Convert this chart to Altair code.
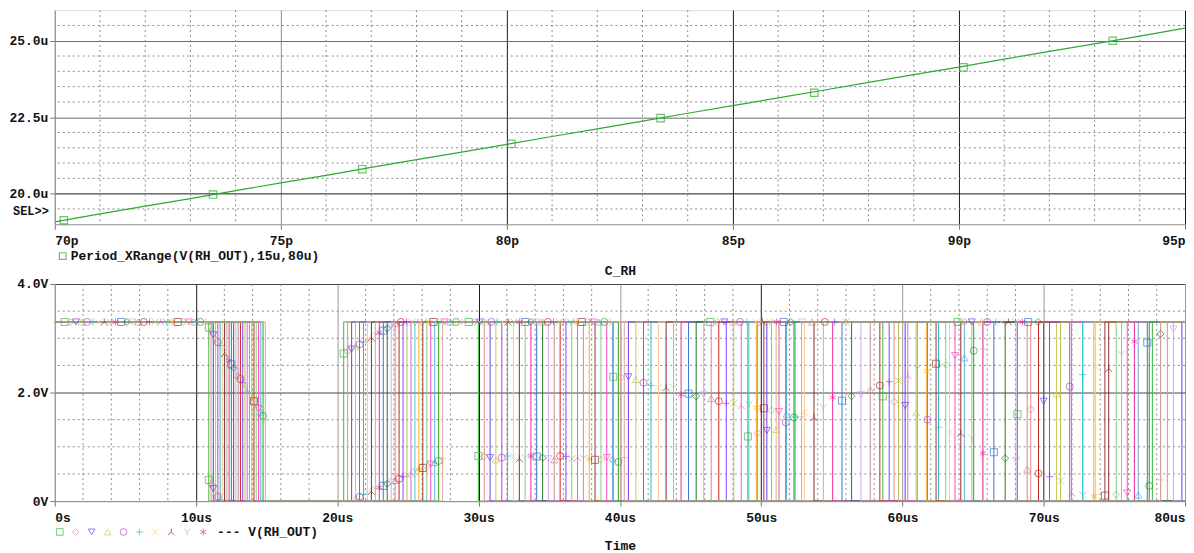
import altair as alt
import pandas as pd

FONT = "Liberation Mono"

# ---------------- top panel: Period_XRange(V(RH_OUT)) versus C_RH ----------------
c_rh_p = [70, 71, 72, 73, 74, 75, 76, 77, 78, 79, 80, 81, 82, 83, 84, 85, 86, 87, 88, 89, 90, 91, 92, 93, 94, 95]
period_us = [19.08, 19.34, 19.59, 19.84, 20.10, 20.35, 20.60, 20.86, 21.11, 21.36, 21.61, 21.87, 22.12,
             22.37, 22.63, 22.88, 23.13, 23.38, 23.64, 23.89, 24.14, 24.40, 24.65, 24.90, 25.15, 25.41]
mk_c_p = [70.2, 73.5, 76.8, 80.1, 83.4, 86.8, 90.1, 93.4]
mk_period_us = [19.13, 19.97, 20.80, 21.63, 22.47, 23.30, 24.13, 25.00]
top_x_ticks = [70, 75, 80, 85, 90, 95]
top_y_ticks = [20.0, 22.5, 25.0]
top_x_minor = [71, 72, 73, 74, 76, 77, 78, 79, 81, 82, 83, 84, 86, 87, 88, 89, 91, 92, 93, 94]
top_y_minor = [19.5, 20.5, 21.0, 21.5, 22.0, 23.0, 23.5, 24.0, 24.5, 25.5]

# ---------------- bottom panel: V(RH_OUT) for each C_RH step ----------------
v_high = 3.3
fall1_us = [10.90, 11.06, 11.22, 11.38, 11.54, 11.70, 11.86, 12.02, 12.18, 12.34, 12.50, 12.66, 12.82,
            12.98, 13.14, 13.30, 13.46, 13.62, 13.78, 13.94, 14.10, 14.26, 14.42, 14.58, 14.74, 14.90]
rise1_us = [20.45, 20.73, 21.01, 21.29, 21.57, 21.85, 22.13, 22.41, 22.69, 22.97, 23.25, 23.53, 23.81,
            24.09, 24.37, 24.65, 24.93, 25.21, 25.49, 25.77, 26.05, 26.33, 26.61, 26.89, 27.17, 27.45]
bot_x_ticks = [0, 10, 20, 30, 40, 50, 60, 70, 80]
bot_y_ticks = [0, 2, 4]
bot_x_minor = [2, 4, 6, 8, 12, 14, 16, 18, 22, 24, 26, 28, 32, 34, 36, 38, 42, 44, 46, 48,
               52, 54, 56, 58, 62, 64, 66, 68, 72, 74, 76, 78]
bot_y_minor = [0.5, 1.0, 1.5, 2.5, 3.0, 3.5]

# markers lying on the 3.3 V level: (first trace, times in us)
mk_level_groups = [
    (0, [0.7, 1.1, 1.5, 1.9, 2.3, 2.7, 3.1, 3.5, 3.9, 4.3, 4.7, 5.1, 5.5, 5.9, 6.3, 6.7, 7.1, 7.5,
         7.9, 8.3, 8.7, 9.1, 9.5, 9.9, 10.3, 10.7]),
    (14, [24.5, 24.9, 25.3, 25.7, 26.1, 26.5, 26.8, 27.2, 27.6, 28.0, 28.4, 28.8]),
    (0, [29.3, 29.7, 30.1, 30.5, 30.9, 31.3, 31.7, 32.1, 32.5, 32.9, 33.3, 33.7, 34.1, 34.5, 34.9,
         35.3, 35.7, 36.1, 36.5, 36.9, 37.3, 37.7, 38.1, 38.5, 38.9, 39.3]),
    (0, [46.4, 46.9, 47.4, 48.0, 48.5, 49.0, 49.6, 50.1, 50.6, 51.1, 51.6, 52.1, 52.9, 53.6, 54.5, 55.2, 56.0]),
    (0, [63.9, 64.4, 64.9, 65.6, 66.0, 66.6, 67.0, 67.5, 68.0, 68.5, 68.9, 69.6]),
]
# markers lying on switching edges: (edge, cycle, first trace, volts)
mk_edge_groups = [
    ("fall", 0, 0, [3.20, 3.13, 3.06, 3.00, 2.93, 2.86, 2.79, 2.72, 2.66, 2.59, 2.52, 2.45, 2.38,
                    2.32, 2.25, 2.18, 2.11, 2.04, 1.98, 1.91, 1.84, 1.77, 1.70, 1.64, 1.57, 1.50]),
    ("fall", 0, 0, [0.39, 0.31, 0.23, 0.15, 0.08, 0.02]),
    ("rise", 0, 0, [2.72, 2.76, 2.80, 2.85, 2.89, 2.93, 2.97, 3.01, 3.06, 3.10, 3.14, 3.18, 3.23, 3.27]),
    ("rise", 0, 3, [0.05, 0.08, 0.12, 0.15, 0.18, 0.22, 0.25, 0.28, 0.32, 0.35, 0.38, 0.41, 0.45,
                    0.48, 0.51, 0.55, 0.58, 0.61, 0.65, 0.68, 0.71, 0.74, 0.78]),
    ("fall", 1, 0, [0.83, 0.82, 0.80, 0.76, 0.80, 0.83, 0.82, 0.78, 0.80, 0.83, 0.82, 0.80, 0.78,
                    0.76, 0.83, 0.82, 0.78, 0.80, 0.79, 0.77, 0.76, 0.76, 0.80, 0.78, 0.72, 0.80]),
    ("rise", 1, 0, [2.29, 2.28, 2.29, 2.24, 2.18, 2.13, 2.09, 2.09, 2.09, 1.96, 1.98, 1.93, 1.96,
                    1.89, 1.84, 1.80, 1.80, 1.76, 1.78, 1.72, 1.71, 1.67, 1.65, 1.60, 1.54, 1.55]),
    ("fall", 2, 0, [1.19, 1.25, 1.30, 1.32, 1.45, 1.55, 1.63, 1.54, 1.72, 1.91, 1.85, 1.93, 1.96,
                    2.05, 2.13, 2.20, 2.22, 2.31, 2.44, 2.39, 2.53, 2.51, 2.68, 2.64, 2.77, 2.80]),
    ("rise", 2, 0, [1.93, 1.83, 1.76, 1.63, 1.50, 1.36, 1.27, 1.25, 1.16, 0.88, 0.90, 0.79, 0.75,
                    0.59, 0.51, 0.45, 0.37, 0.15, 0.11, 0.09, 0.10, 0.12, 0.15, 0.11, 0.28, 0.39]),
    ("fall", 3, 0, [1.60, 1.69, 1.84, 1.98, 2.11, 2.33, 2.48, 2.44, 2.70, 2.94, 2.92, 3.08, 3.17]),
]

trace_colors = ["#3cb83c", "#e38a8a", "#6a3cf0", "#c8c85a", "#b844c8", "#22bccc", "#ffc890", "#8a2a2a",
                "#9cc09c", "#f0289c", "#3a74cc", "#237a23", "#cdaaec", "#c98a8a", "#cc2424", "#8a44ff",
                "#bcbc55", "#dc66dc", "#48cccc", "#ffaa22", "#9a3535", "#88cc88", "#ff48bc", "#6aa8dc",
                "#1ea81e", "#e2a2a2"]
shape_paths = ["square", "diamond", "triangle-down", "triangle-up", "circle",
               "M-1,0L1,0M0,-1L0,1",
               "M-1,-1L1,1M-1,1L1,-1",
               "M0,-1L0,0M0,0L-1,1M0,0L1,1",
               "M-1,-1L0,0L1,-1M0,0L0,1",
               "M0,-1L0,1M-0.87,-0.5L0.87,0.5M-0.87,0.5L0.87,-0.5"]

# ---------------- build tables ----------------
top_line = pd.DataFrame({"x": c_rh_p, "y": period_us})
top_marks = pd.DataFrame({"x": mk_c_p, "y": mk_period_us})

rows = []
for k in range(len(c_rh_p)):
    T = period_us[k]
    pts = [(0.0, v_high)]
    n = 0
    while True:
        fn = fall1_us[k] + n * T
        if fn >= 80:
            pts.append((80.0, v_high))
            break
        pts += [(fn, v_high), (fn, 0.0)]
        rn = rise1_us[k] + n * T
        if rn >= 80:
            pts.append((80.0, 0.0))
            break
        pts += [(rn, 0.0), (rn, v_high)]
        n += 1
    for i, (t, v) in enumerate(pts):
        rows.append({"tr": k, "o": i, "x": t, "y": v})
traces = pd.DataFrame(rows)

mrows = []
for k0, times in mk_level_groups:
    for j, t in enumerate(times):
        k = (k0 + j) % 26
        mrows.append({"tr": k, "sh": k % 10, "x": t, "y": v_high})
for edge, cyc, k0, volts in mk_edge_groups:
    for j, v in enumerate(volts):
        k = k0 + j
        base = fall1_us[k] if edge == "fall" else rise1_us[k]
        t = base + cyc * period_us[k]
        if t <= 80:
            mrows.append({"tr": k, "sh": k % 10, "x": t, "y": v})
markers = pd.DataFrame(mrows)

# ---------------- encodings ----------------
axis_common = dict(grid=True, gridWidth=1, tickSize=5, tickColor="#777",
                   domainColor="#999", labelFont=FONT, labelFontSize=13, labelFontWeight="bold",
                   labelColor="#111", titleFont=FONT, titleFontSize=13, titleFontWeight="bold",
                   titleColor="#111")


def grid_col(test, dark="#1a1a1a", light="#8c8c8c"):
    return {"condition": {"test": test, "value": dark}, "value": light}


top_x = alt.X("x:Q", scale=alt.Scale(domain=[70, 95], nice=False, zero=False),
              axis=alt.Axis(values=top_x_ticks, labelExpr="datum.value + 'p'", title="C_RH",
                            titlePadding=17, labelPadding=5, labelFlush=True,
                            gridColor=grid_col("datum.value >= 80"), **axis_common))
top_y = alt.Y("y:Q", scale=alt.Scale(domain=[19, 26], nice=False, zero=False),
              axis=alt.Axis(values=top_y_ticks, labelExpr="format(datum.value, '.1f') + 'u'",
                            title=None, labelPadding=2,
                            gridColor=grid_col("datum.value == 20", light="#6a6a6a"), **axis_common))
bot_x = alt.X("x:Q", scale=alt.Scale(domain=[0, 80], nice=False, zero=False),
              axis=alt.Axis(values=bot_x_ticks,
                            labelExpr="datum.value == 0 ? '0s' : datum.value + 'us'",
                            title="Time", titlePadding=15, labelPadding=6, labelFlush=True,
                            gridColor=grid_col("datum.value == 10 || datum.value == 30 || datum.value == 50",
                                               light="#9a9a9a"), **axis_common))
bot_y = alt.Y("y:Q", scale=alt.Scale(domain=[0, 4], nice=False, zero=False),
              axis=alt.Axis(values=bot_y_ticks,
                            labelExpr="datum.value == 0 ? '0V' : format(datum.value, '.1f') + 'V'",
                            title=None, labelPadding=2, gridColor="#444", **axis_common))

minor_style = dict(strokeDash=[2, 3], color="#8a8a8a", strokeWidth=1)

# ---------------- top panel ----------------
TOP_W, TOP_H = 1135, 215
t_gx = alt.Chart(pd.DataFrame({"x": top_x_minor})).mark_rule(**minor_style).encode(x=top_x)
t_gy = alt.Chart(pd.DataFrame({"y": top_y_minor})).mark_rule(**minor_style).encode(y=top_y)
t_line = alt.Chart(top_line).mark_line(color="#2faa2f", strokeWidth=1.2, clip=True).encode(x=top_x, y=top_y)
t_pts = alt.Chart(top_marks).mark_point(shape="square", filled=False, color="#2faa2f",
                                        size=55, strokeWidth=1.2).encode(x=top_x, y=top_y)
t_sel = alt.Chart(pd.DataFrame({"t": ["SEL>>"]})).mark_text(
    font=FONT, fontSize=12, fontWeight="bold", align="right", baseline="middle", color="#111"
).encode(text="t:N", x=alt.value(-6), y=alt.value(202))
t_leg_sym = alt.Chart(pd.DataFrame({"t": ["s"]})).mark_point(
    shape="square", filled=False, color="#2faa2f", size=45, strokeWidth=1.2
).encode(x=alt.value(8), y=alt.value(247))
t_leg_txt = alt.Chart(pd.DataFrame({"t": ["Period_XRange(V(RH_OUT),15u,80u)"]})).mark_text(
    font=FONT, fontSize=13, fontWeight="bold", align="left", baseline="middle", color="#111"
).encode(text="t:N", x=alt.value(16), y=alt.value(247))

top = alt.layer(t_gx, t_gy, t_line, t_pts, t_sel, t_leg_sym, t_leg_txt).properties(width=TOP_W, height=TOP_H)

# ---------------- bottom panel ----------------
BOT_W, BOT_H = 1135, 218
color_enc = alt.Color("tr:N", scale=alt.Scale(domain=list(range(26)), range=trace_colors), legend=None)
b_gx = alt.Chart(pd.DataFrame({"x": bot_x_minor})).mark_rule(**minor_style).encode(x=bot_x)
b_gy = alt.Chart(pd.DataFrame({"y": bot_y_minor})).mark_rule(**minor_style).encode(y=bot_y)
b_lines = alt.Chart(traces).mark_line(strokeWidth=1, clip=True).encode(
    x=bot_x, y=bot_y, color=color_enc, detail="tr:N", order="o:Q")
b_pts = alt.Chart(markers).mark_point(filled=False, size=50, strokeWidth=1, clip=True).encode(
    x=bot_x, y=bot_y, color=color_enc,
    shape=alt.Shape("sh:N", scale=alt.Scale(domain=list(range(10)), range=shape_paths), legend=None))

legend_layers = []
for i in range(10):
    legend_layers.append(
        alt.Chart(pd.DataFrame({"t": [i]})).mark_point(
            shape=shape_paths[i], filled=False, color=trace_colors[i], size=45, strokeWidth=1
        ).encode(x=alt.value(5 + 16 * i), y=alt.value(BOT_H + 31))
    )
b_leg_txt = alt.Chart(pd.DataFrame({"t": ["--- V(RH_OUT)"]})).mark_text(
    font=FONT, fontSize=13, fontWeight="bold", align="left", baseline="middle", color="#111"
).encode(text="t:N", x=alt.value(163), y=alt.value(BOT_H + 31))

bottom = alt.layer(b_gx, b_gy, b_lines, b_pts, *legend_layers, b_leg_txt).properties(width=BOT_W, height=BOT_H)

chart = alt.vconcat(top, bottom, spacing=60, bounds="flush").properties(
    padding={"left": 0, "top": 0, "right": 0, "bottom": 0}
).configure_view(stroke="#8a8a8a", strokeWidth=1).configure(background="white")

chart.save("out.html", embed_options={"renderer": "svg", "actions": False})
